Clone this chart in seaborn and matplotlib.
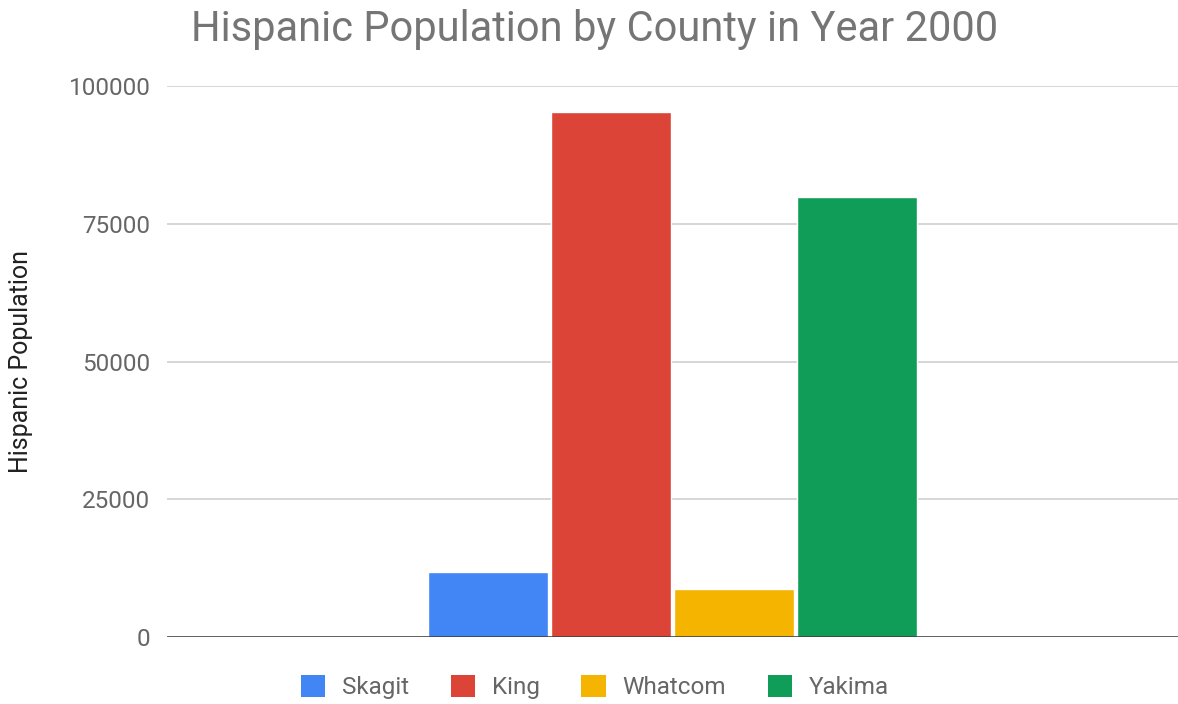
import matplotlib
matplotlib.use("Agg")
import matplotlib.pyplot as plt
import seaborn as sns
import pandas as pd
from matplotlib.patches import Patch

# Hispanic population, census year 2000
counties = ["Skagit", "King", "Whatcom", "Yakima"]
population = [11768, 95242, 8687, 79905]
colors = ["#4285F4", "#DB4437", "#F4B400", "#0F9D58"]
y_ticks = [0, 25000, 50000, 75000, 100000]

df = pd.DataFrame({"group": [""] * len(counties), "County": counties, "Population": population})

sns.set_theme(style="white")
plt.rcParams["font.family"] = ["Roboto", "DejaVu Sans"]

fig = plt.figure(figsize=(11.78, 7.04), dpi=100)
ax = fig.add_axes([0.1418, 0.0952, 0.8582, 0.7826])

sns.barplot(data=df, x="group", y="Population", hue="County", hue_order=counties,
            palette=colors, width=0.8, gap=0.025, saturation=1, legend=False, ax=ax)

ax.set_ylim(0, 100000)
ax.set_xlim(-0.822, 0.822)
ax.set_yticks(y_ticks)
ax.set_yticklabels([str(t) for t in y_ticks])
ax.set_xticks([])
ax.set_xlabel("")
ax.tick_params(axis="y", length=0, pad=12, labelsize=17.5, labelcolor="#666666")
for t in y_ticks[1:]:
    ax.axhline(t, color="#cccccc", linewidth=1.1, zorder=0)
ax.axhline(0, color="#333333", linewidth=1.8, zorder=3)
for s in ax.spines.values():
    s.set_visible(False)

ax.set_ylabel("Hispanic Population", fontsize=18, color="#222222")
ax.yaxis.set_label_coords(-0.133, 0.5)

fig.text(0.505, 0.958, "Hispanic Population by County in Year 2000",
         ha="center", va="center", fontsize=30, color="#757575")

handles = [Patch(facecolor=c, edgecolor="none") for c in colors]
fig.legend(handles, counties, loc="center", bbox_to_anchor=(0.505, 0.024),
           ncol=4, frameon=False, fontsize=17.5, labelcolor="#666666",
           handlelength=1.0, handleheight=1.0, handletextpad=0.7, columnspacing=1.7)

fig.savefig("out.png", dpi=100, facecolor="white")
